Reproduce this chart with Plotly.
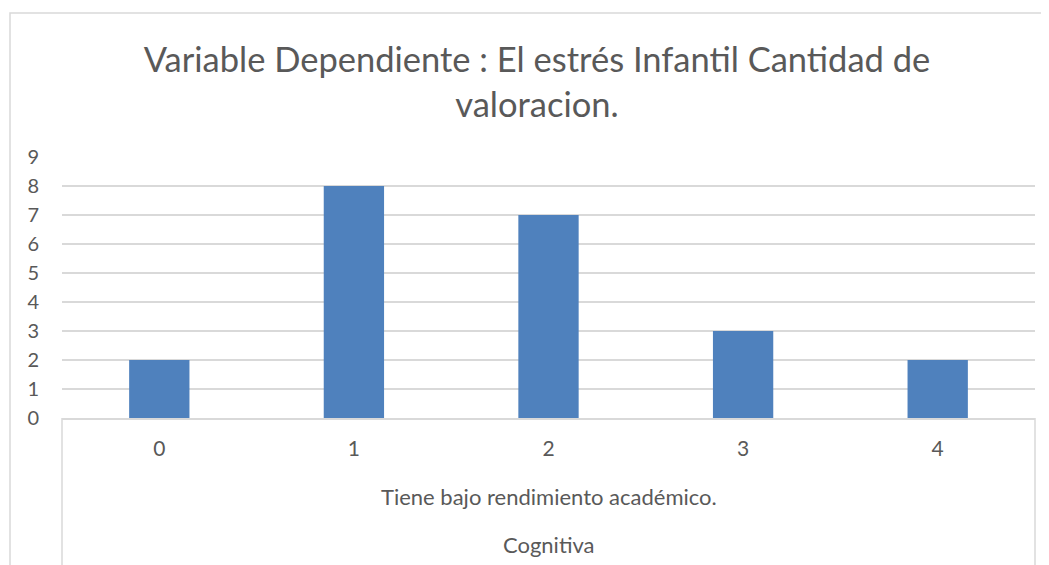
import plotly.graph_objects as go

# data
categories = ["0", "1", "2", "3", "4"]
counts = [2, 8, 7, 3, 2]
group_label = "Tiene bajo rendimiento académico."
outer_label = "Cognitiva"
title_text = "Variable Dependiente : El estrés Infantil Cantidad de<br>valoracion."

GRID = "#d9d9d9"
TXT = "#595959"
FONT = "Lato, 'Open Sans', sans-serif"

# page body has an 8px margin, so the figure is drawn 8px smaller
W, H = 1041, 557
OFF = 8

fig = go.Figure(go.Bar(
    x=categories, y=counts, width=0.31,
    marker=dict(color="#4f81bd", line=dict(width=0)),
))

# screen pixel -> paper coords (plot area is 62..1035 x, 157..418 y on screen)
def px_x(p):
    return (p - 62) / 973

def px_y(p):
    return (418 - p) / 261

shapes = [
    # outer chart border
    dict(type="rect", xref="paper", yref="paper",
         x0=px_x(10), x1=px_x(1070), y0=px_y(590), y1=px_y(13),
         line=dict(color=GRID, width=1.5), layer="below"),
    # category group separators
    dict(type="line", xref="paper", yref="paper", x0=0, x1=0,
         y0=0, y1=px_y(575), line=dict(color=GRID, width=1.5)),
    dict(type="line", xref="paper", yref="paper", x0=1, x1=1,
         y0=0, y1=px_y(575), line=dict(color=GRID, width=1.5)),
]

annotations = [
    dict(text=group_label, xref="paper", yref="paper", x=0.5, y=px_y(497),
         showarrow=False, xanchor="center", yanchor="middle",
         font=dict(size=22, color=TXT, family=FONT)),
    dict(text=outer_label, xref="paper", yref="paper", x=0.5, y=px_y(544),
         showarrow=False, xanchor="center", yanchor="middle",
         font=dict(size=22, color=TXT, family=FONT)),
]

fig.update_layout(
    width=W, height=H,
    margin=dict(l=62 - OFF, r=1049 - 1035, t=157 - OFF, b=565 - 418),
    paper_bgcolor="white", plot_bgcolor="white",
    font=dict(family=FONT, color=TXT, size=21),
    title=dict(text=title_text, x=(537 - OFF) / W, xanchor="center",
               y=1 - (72 - OFF) / H, yanchor="middle", yref="container",
               font=dict(size=34.5, color=TXT, family=FONT)),
    showlegend=False,
    shapes=shapes,
    annotations=annotations,
    xaxis=dict(type="category", showgrid=False, showline=True, linecolor=GRID,
               linewidth=1.5, ticks="", ticklabelstandoff=11,
               tickfont=dict(size=21, color=TXT)),
    yaxis=dict(range=[0, 9], dtick=1, showgrid=True, gridcolor=GRID, gridwidth=1.5,
               zeroline=False, showline=False, ticks="", ticklabelstandoff=22,
               tickfont=dict(size=20, color=TXT)),
)

fig.write_html("out.html")
